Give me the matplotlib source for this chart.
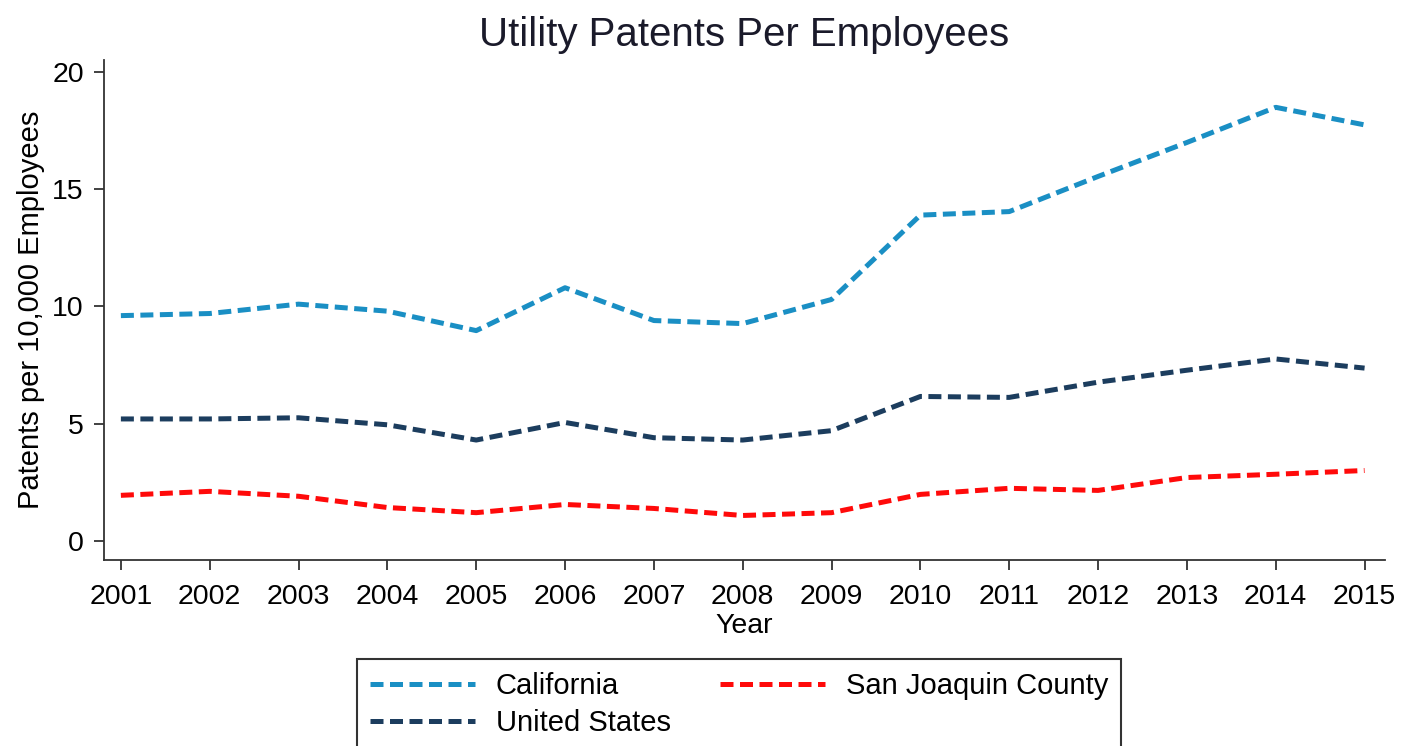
import matplotlib
matplotlib.use("Agg")
import matplotlib.pyplot as plt

years = list(range(2001, 2016))
california = [9.61, 9.7, 10.1, 9.8, 8.97, 10.8, 9.4, 9.27, 10.3, 13.9, 14.05, 15.55, 17.0, 18.5, 17.75]
united_states = [5.2, 5.2, 5.25, 4.95, 4.3, 5.05, 4.4, 4.3, 4.7, 6.16, 6.12, 6.77, 7.28, 7.76, 7.37]
san_joaquin = [1.94, 2.11, 1.9, 1.42, 1.2, 1.55, 1.38, 1.08, 1.2, 1.98, 2.24, 2.15, 2.7, 2.84, 3.0]
y_ticks = [0, 5, 10, 15, 20]

plt.rcParams['font.family'] = ['Liberation Sans', 'DejaVu Sans']

W, H = 1413, 746
fig = plt.figure(figsize=(W / 100, H / 100), dpi=100)
ax = fig.add_axes([104 / W, 1 - 560 / H, (1385 - 104) / W, (560 - 60) / H])

lw = 3.6
dash = (2.6, 1.3)
l1, = ax.plot(years, california, color='#1a8fc4', lw=lw, dashes=dash, label='California')
l3, = ax.plot(years, united_states, color='#1c3d5e', lw=lw, dashes=dash, label='United States')
l2, = ax.plot(years, san_joaquin, color='#ff0a0a', lw=lw, dashes=dash, label='San Joaquin County')

ax.set_xlim(2000.81, 2015.23)
ax.set_ylim(-0.82, 20.52)
ax.set_xticks(years)
ax.set_yticks(y_ticks)
ax.tick_params(axis='both', labelsize=20.5, direction='out', length=7, width=1.3, color='#333333')
ax.tick_params(axis='x', pad=10)
ax.tick_params(axis='y', pad=7.5)
for s in ['top', 'right']:
    ax.spines[s].set_visible(False)
for s in ['left', 'bottom']:
    ax.spines[s].set_linewidth(1.3)
    ax.spines[s].set_color('#333333')

ax.set_title('Utility Patents Per Employees', fontsize=29, pad=10, color='#1a1a2a')
ax.set_xlabel('Year', fontsize=20.5, labelpad=2.5)
ax.set_ylabel('Patents per 10,000 Employees', fontsize=21, labelpad=5)

leg = fig.legend(handles=[l1, l3, l2], ncol=2, loc='upper left',
                 bbox_to_anchor=(357 / W, 1 - 659 / H), fontsize=21,
                 frameon=True, fancybox=False, edgecolor='black',
                 handlelength=3.6, handletextpad=0.7, columnspacing=1.7,
                 borderpad=0.45, labelspacing=0.3, borderaxespad=0)
leg.get_frame().set_linewidth(1.5)

fig.savefig('out.png', dpi=100, facecolor='white')
